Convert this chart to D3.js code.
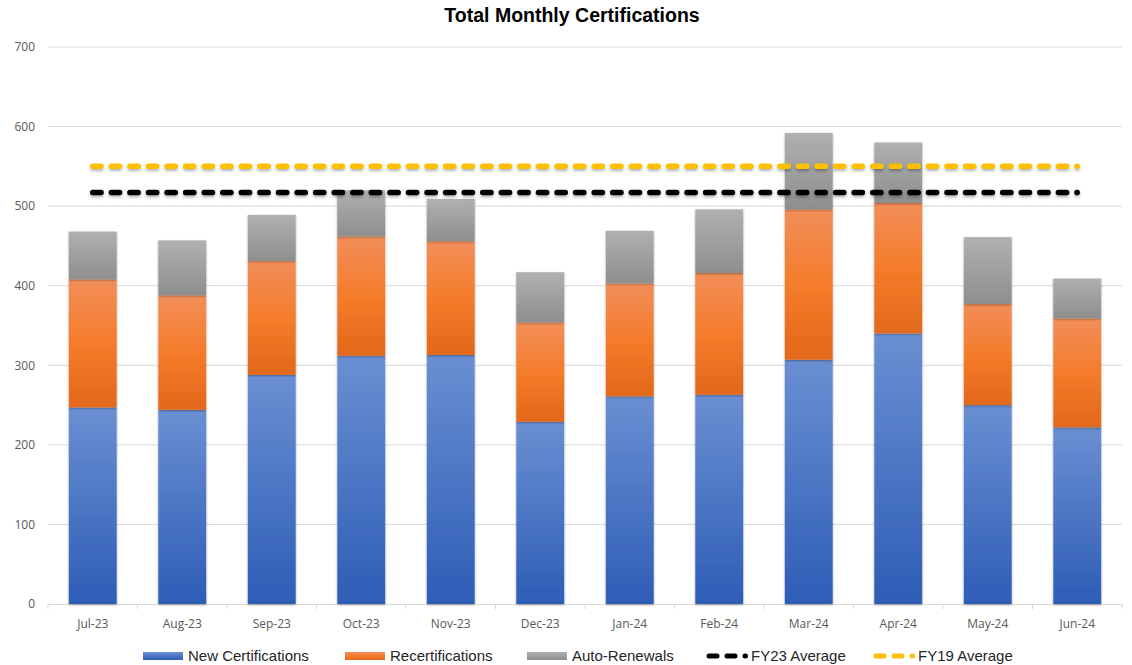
<!DOCTYPE html>
<html>
<head>
<meta charset="utf-8">
<script src="https://cdn.jsdelivr.net/npm/d3@7"></script>
<style>
  body { margin: 0; background: #fff; }
  svg { display: block; }
  .axis text { font-family: "Open Sans", sans-serif; font-size: 12px; fill: #595959; }
  .legend text { font-family: "Liberation Sans Narrow", "Liberation Sans", sans-serif; font-size: 15px; fill: #262626; }
</style>
</head>
<body>
<svg id="chart" width="1132" height="665"></svg>
<script>
// data
const months = ['Jul-23','Aug-23','Sep-23','Oct-23','Nov-23','Dec-23','Jan-24','Feb-24','Mar-24','Apr-24','May-24','Jun-24']
const newCerts = [247, 244, 288, 312, 313, 229, 261, 263, 307, 340, 250, 222]
const recerts  = [161, 144, 143, 150, 143, 125, 142, 153, 189, 164, 127, 137]
const autoRen  = [60, 69, 58, 58, 53, 63, 66, 80, 96, 76, 84, 50]
const fy23Avg = 517
const fy19Avg = 550
const yTicks = [0, 100, 200, 300, 400, 500, 600, 700]

const seriesNames = ['New Certifications', 'Recertifications', 'Auto-Renewals']
const grads = [
    ['#6a8fd2', '#2e5db6'],
    ['#f28e5a', '#f47c2a', '#e2681a'],
    ['#b0b0b0', '#8e8e8e']
]

const svg = d3.select('#chart'),
    width = +svg.attr('width'),
    height = +svg.attr('height')

const margin = {top: 47, right: 10, bottom: 61, left: 48}
const plotW = width - margin.left - margin.right
const plotH = height - margin.top - margin.bottom

const defs = svg.append('defs')
grads.forEach((stops, i) => {
    const g = defs.append('linearGradient')
        .attr('id', 'grad' + i)
        .attr('x1', 0).attr('y1', 0).attr('x2', 0).attr('y2', 1)
    stops.forEach((c, k) => {
        g.append('stop').attr('offset', k / (stops.length - 1)).attr('stop-color', c)
    })
})
const shadow = defs.append('filter').attr('id', 'shadow')
    .attr('x', '-20%').attr('y', '-20%').attr('width', '140%').attr('height', '140%')
shadow.append('feDropShadow')
    .attr('dx', 0).attr('dy', 1).attr('stdDeviation', 1.3)
    .attr('flood-color', '#000').attr('flood-opacity', 0.35)
// horizontal line has a zero-height bbox, so use user space for its filter
const lineShadow = defs.append('filter').attr('id', 'lineShadow')
    .attr('filterUnits', 'userSpaceOnUse')
    .attr('x', 0).attr('y', 0).attr('width', width).attr('height', height)
lineShadow.append('feDropShadow')
    .attr('dx', 0).attr('dy', 2).attr('stdDeviation', 1.5)
    .attr('flood-color', '#000').attr('flood-opacity', 0.3)

const x = d3.scaleBand().domain(months).range([0, plotW]).padding(0)
const y = d3.scaleLinear().domain([0, 700]).range([plotH, 0])

const g = svg.append('g').attr('transform', `translate(${margin.left},${margin.top})`)

// title
svg.append('text')
    .attr('x', 572).attr('y', 22)
    .attr('text-anchor', 'middle')
    .style('font-family', '"Liberation Sans", sans-serif')
    .style('font-weight', 'bold')
    .style('font-size', '19.5px')
    .attr('fill', '#000')
    .text('Total Monthly Certifications')

// grid
g.append('g')
    .selectAll('line')
    .data(yTicks.slice(1))
    .join('line')
    .attr('x1', 0).attr('x2', plotW)
    .attr('y1', d => y(d)).attr('y2', d => y(d))
    .attr('stroke', '#d9d9d9').attr('stroke-width', 1)

// y axis labels
const yAxis = g.append('g').attr('class', 'axis')
    .call(d3.axisLeft(y).tickValues(yTicks).tickSize(0).tickPadding(13))
yAxis.select('.domain').remove()

// x axis
const xAxis = g.append('g').attr('class', 'axis')
    .attr('transform', `translate(0,${plotH})`)
    .call(d3.axisBottom(x).tickSize(0).tickPadding(15))
xAxis.select('.domain').attr('stroke', '#d9d9d9')
xAxis.append('g')
    .selectAll('line')
    .data(d3.range(months.length + 1))
    .join('line')
    .attr('x1', d => d * x.step()).attr('x2', d => d * x.step())
    .attr('y1', 0).attr('y2', 5)
    .attr('stroke', '#d9d9d9')

// stacked bars
const table = months.map((m, i) => ({month: m, a: newCerts[i], b: recerts[i], c: autoRen[i]}))
const stack = d3.stack().keys(['a', 'b', 'c'])(table)
const barW = x.bandwidth() * 0.535

stack.forEach((layer, si) => {
    g.append('g')
        .attr('filter', 'url(#shadow)')
        .selectAll('rect')
        .data(layer)
        .join('rect')
        .attr('x', d => x(d.data.month) + (x.bandwidth() - barW) / 2)
        .attr('width', barW)
        .attr('y', d => y(d[1]))
        .attr('height', d => y(d[0]) - y(d[1]))
        .attr('fill', `url(#grad${si})`)
})

// average lines
const avgLine = d3.line()
    .x(d => margin.left + x(d.m) + x.bandwidth() / 2)
    .y(d => margin.top + y(d.v))
function drawAvg(val, color) {
    svg.append('path')
        .datum(months.map(m => ({m: m, v: val})))
        .attr('d', avgLine)
        .attr('fill', 'none')
        .attr('stroke', color)
        .attr('stroke-width', 5.5)
        .attr('stroke-linecap', 'round')
        .attr('stroke-dasharray', '8.3,10.27')
        .attr('filter', 'url(#lineShadow)')
}
drawAvg(fy23Avg, '#000000')
drawAvg(fy19Avg, '#ffc000')

// legend
const legendItems = [
    {name: seriesNames[0], type: 'bar', fill: 'url(#grad0)', x: 143},
    {name: seriesNames[1], type: 'bar', fill: 'url(#grad1)', x: 345},
    {name: seriesNames[2], type: 'bar', fill: 'url(#grad2)', x: 527},
    {name: 'FY23 Average', type: 'line', fill: '#000000', x: 706},
    {name: 'FY19 Average', type: 'line', fill: '#ffc000', x: 873}
]
const legend = svg.append('g').attr('class', 'legend')
legendItems.forEach(it => {
    const lg = legend.append('g').attr('transform', `translate(${it.x},656)`)
    if (it.type === 'bar') {
        lg.append('rect')
            .attr('x', 0).attr('y', -4).attr('width', 40).attr('height', 8)
            .attr('fill', it.fill)
    } else {
        lg.append('line')
            .attr('x1', 3).attr('x2', 39.5).attr('y1', 0).attr('y2', 0)
            .attr('stroke', it.fill).attr('stroke-width', 5)
            .attr('stroke-linecap', 'round')
            .attr('stroke-dasharray', '8,10')
    }
    lg.append('text')
        .attr('x', 45).attr('y', 5)
        .text(it.name)
})
</script>
</body>
</html>
